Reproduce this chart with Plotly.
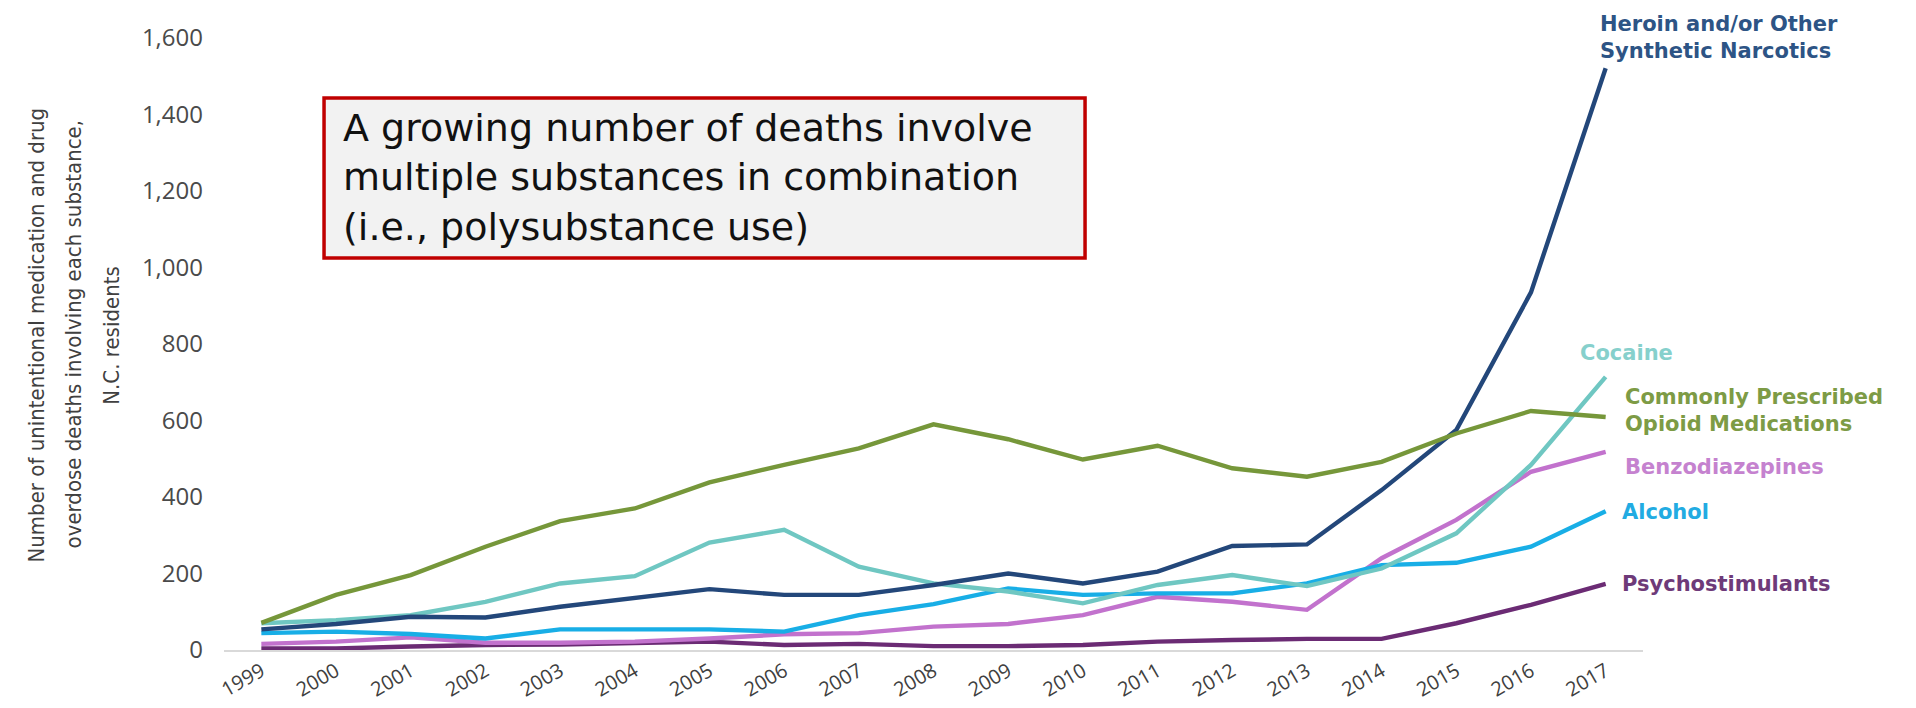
import plotly.graph_objects as go

# Unintentional medication/drug overdose deaths in N.C., by substance involved
years = [str(y) for y in range(1999, 2018)]

heroin = [54, 68, 87, 85, 113, 135, 159, 144, 144, 170, 200, 174, 205, 272, 276, 418, 575, 935, 1521]
cocaine = [70, 78, 91, 126, 174, 193, 281, 314, 218, 174, 153, 122, 170, 196, 167, 213, 305, 484, 714]
opioid_rx = [71, 144, 196, 270, 337, 370, 438, 484, 527, 590, 551, 498, 534, 475, 453, 492, 566, 625, 609]
benzo = [16, 22, 33, 19, 19, 22, 30, 41, 44, 61, 68, 91, 139, 126, 105, 240, 340, 466, 518]
alcohol = [44, 48, 42, 30, 54, 54, 54, 48, 91, 120, 161, 144, 148, 148, 174, 222, 228, 270, 363]
psychostim = [4, 4, 9, 13, 14, 17, 22, 13, 16, 10, 10, 13, 22, 26, 29, 29, 70, 118, 173]

# name, values, line colour, label colour, label x/y shift from the last point
series = [
    ("Heroin and/or Other<br>Synthetic Narcotics", heroin, "#23477A", "#2D5485", -8, 31),
    ("Cocaine", cocaine, "#6FC7C2", "#86D0CC", -28, 24),
    ("Commonly Prescribed<br>Opioid Medications", opioid_rx, "#76973A", "#7D9B45", 17, 7),
    ("Benzodiazepines", benzo, "#C272CD", "#C582CF", 17, -15),
    ("Alcohol", alcohol, "#18AEE6", "#22ABE2", 14, -1),
    ("Psychostimulants", psychostim, "#6B2B74", "#6E3A79", 14, 0),
]

# draw order: lowest lines first so the heroin and opioid lines sit on top
draw_order = [5, 3, 4, 1, 0, 2]

fig = go.Figure()
for i in draw_order:
    name, vals, color, _, _, _ = series[i]
    fig.add_trace(go.Scatter(
        x=years, y=vals, mode="lines", name=name.replace("<br>", " "),
        line=dict(color=color, width=4.4), showlegend=False,
    ))

last_idx = len(years) - 1
annotations = []
for name, vals, _, lcolor, dx, dy in series:
    annotations.append(dict(
        x=last_idx, y=vals[-1], xref="x", yref="y",
        text=f"<b>{name}</b>", showarrow=False,
        xanchor="left", yanchor="middle", align="left",
        xshift=dx, yshift=dy,
        font=dict(family="DejaVu Sans, sans-serif", size=21, color=lcolor),
    ))

# y-axis title, one rotated annotation per line
title_lines = [
    ("Number of unintentional medication and drug", -0.132),
    ("overdose deaths involving each substance,", -0.106),
    ("N.C. residents", -0.079),
]
for txt, xp in title_lines:
    annotations.append(dict(
        x=xp, y=0.515, xref="paper", yref="paper", text=txt,
        textangle=-90, showarrow=False, xanchor="center", yanchor="middle",
        font=dict(family="Liberation Sans Narrow, DejaVu Sans Condensed, sans-serif",
                  size=22, color="#404040"),
    ))

# call-out text inside the framed box
annotations.append(dict(
    x=0.0825, y=0.772, xref="paper", yref="paper",
    text="A growing number of deaths involve<br>multiple substances in combination<br>"
         "(i.e., polysubstance use)",
    showarrow=False, xanchor="left", yanchor="middle", align="left",
    font=dict(family="DejaVu Sans, sans-serif", size=38, color="#111111"),
))

fig.add_shape(
    type="rect", xref="paper", yref="paper",
    x0=0.0705, x1=0.6068, y0=0.6405, y1=0.902,
    line=dict(color="#C00000", width=3.5), fillcolor="#F2F2F2", layer="below",
)

fig.update_layout(
    width=1916, height=708,
    margin=dict(l=224, r=273, t=38, b=58, autoexpand=False),
    paper_bgcolor="white", plot_bgcolor="white",
    annotations=annotations,
    xaxis=dict(
        type="category", range=[-0.5, 18.5], showgrid=False, zeroline=False,
        showline=True, linecolor="#D9D9D9", linewidth=1.5, ticks="",
        automargin=False, tickangle=-30,
        tickfont=dict(family="Open Sans, sans-serif", size=20, color="#404040"),
    ),
    yaxis=dict(
        range=[0, 1600], tickvals=list(range(0, 1601, 200)), tickformat=",",
        showgrid=False, zeroline=False, showline=False, ticks="",
        automargin=False, ticklabelstandoff=20,
        tickfont=dict(family="Open Sans, sans-serif", size=24, color="#4A4A4A"),
    ),
)

fig.write_html("out.html")
